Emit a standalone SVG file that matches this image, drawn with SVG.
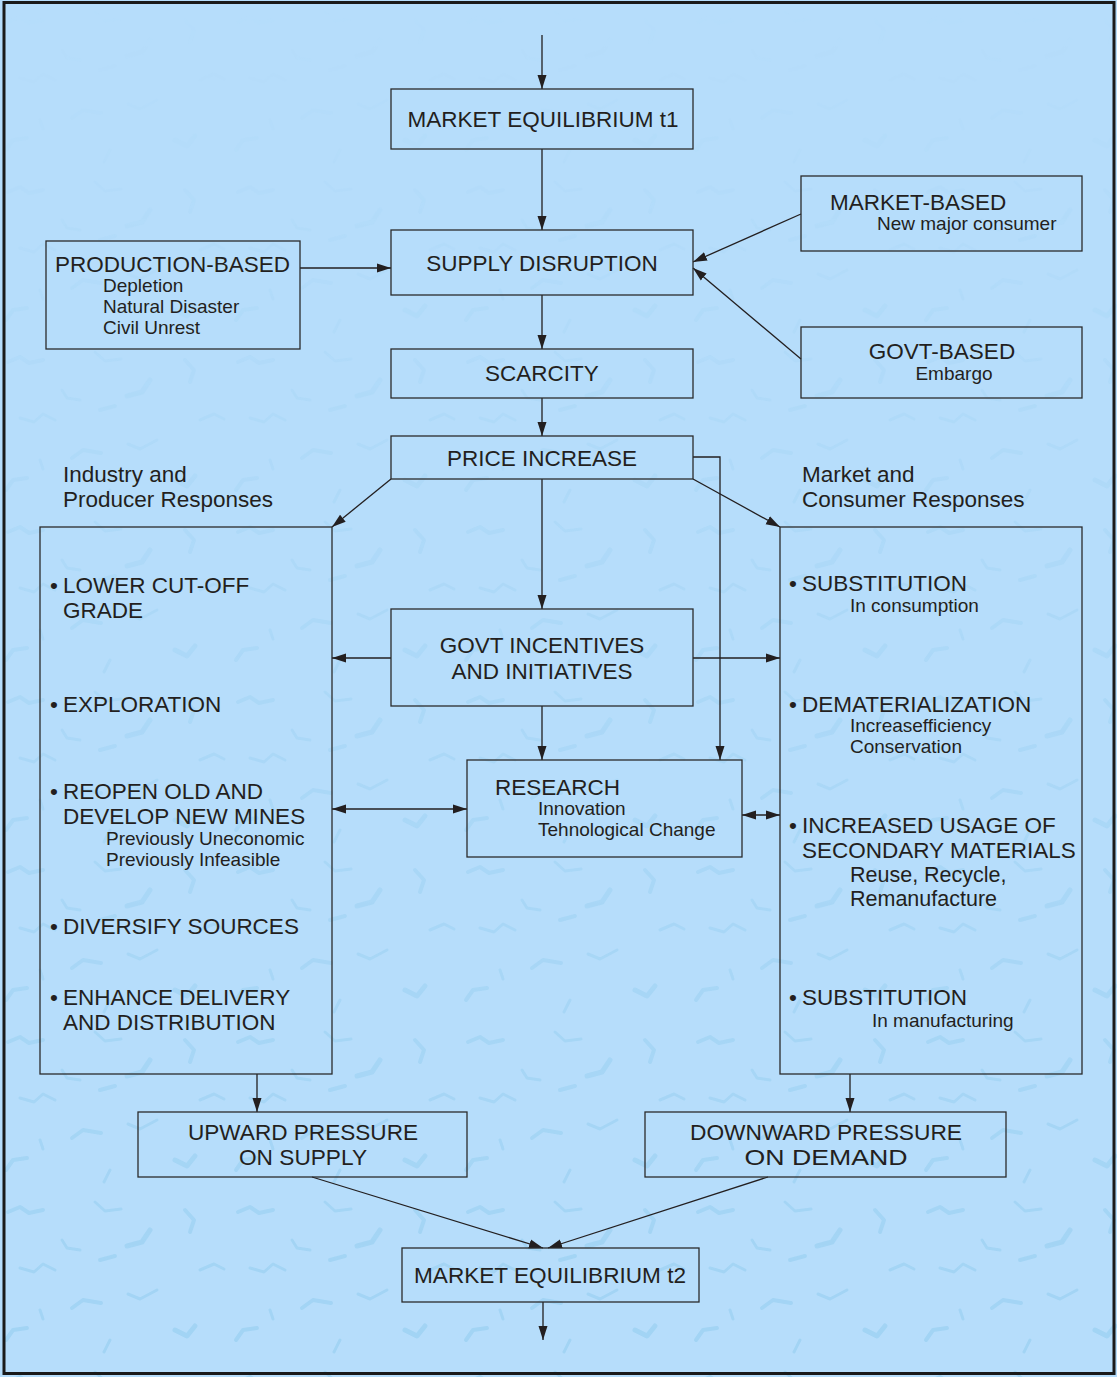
<svg xmlns="http://www.w3.org/2000/svg" width="1117" height="1377" viewBox="0 0 1117 1377">
<style>
.box{fill:none;stroke:#2b2b2b;stroke-width:1.3}
.ln{fill:none;stroke:#231f20;stroke-width:1.3}
.t{font-family:"Liberation Sans",Arial,sans-serif;font-size:22.5px;fill:#231f20}
.s{font-family:"Liberation Sans",Arial,sans-serif;font-size:19px;fill:#231f20}
.m{font-family:"Liberation Sans",Arial,sans-serif;font-size:21.5px;fill:#231f20}
.c{text-anchor:middle}
</style>
<defs>
<marker id="ah" markerUnits="userSpaceOnUse" markerWidth="15" markerHeight="10" refX="14" refY="5" orient="auto-start-reverse">
<path d="M0,0.5 L14,5 L0,9.5 z" fill="#231f20"/>
</marker>
<pattern id="tex" width="230" height="170" patternUnits="userSpaceOnUse">
<g fill="none" stroke="#93cdef" stroke-linecap="round" stroke-linejoin="round">
<path stroke-width="4" d="M8,22 l12,-5 l9,6 l14,-3"/>
<path stroke-width="3" d="M95,12 l10,9 l16,-2"/>
<path stroke-width="5" d="M150,40 l-8,12 l-15,4"/>
<path stroke-width="3" d="M20,78 l14,4 l9,-8 l12,6"/>
<path stroke-width="4" d="M72,118 l11,-8 l18,3"/>
<path stroke-width="3" d="M128,104 l12,5 l17,-9"/>
<path stroke-width="4" d="M6,150 l7,-10 l14,-2"/>
<path stroke-width="3" d="M62,50 l5,8 l13,2"/>
<path stroke-width="4" d="M185,20 l9,10 l-4,12"/>
<path stroke-width="3" d="M200,80 l14,-6 l10,5"/>
<path stroke-width="5" d="M175,140 l12,6 l8,-10"/>
<path stroke-width="3" d="M110,150 l-6,12"/>
<path stroke-width="3" d="M40,120 l3,9"/>
<path stroke-width="4" d="M100,70 l15,-4"/>
</g>
</pattern>
<linearGradient id="fade" x1="0" y1="0" x2="0" y2="1">
<stop offset="0" stop-color="#fff" stop-opacity="0"/>
<stop offset="0.3" stop-color="#fff" stop-opacity="0.3"/>
<stop offset="1" stop-color="#fff" stop-opacity="0.95"/>
</linearGradient>
<mask id="fm"><rect x="0" y="0" width="1117" height="1377" fill="url(#fade)"/></mask>
</defs>
<rect x="0" y="0" width="1117" height="1377" fill="#b6ddfb"/>
<rect x="0" y="0" width="1117" height="1377" fill="url(#tex)" mask="url(#fm)" opacity="0.6"/>
<rect x="4" y="2.5" width="1110" height="1371" fill="none" stroke="#1a1a1a" stroke-width="3"/>

<g id="connectors">
<line class="ln" x1="542" y1="35" x2="542" y2="89" marker-end="url(#ah)"/>
<line class="ln" x1="542" y1="149" x2="542" y2="230" marker-end="url(#ah)"/>
<line class="ln" x1="300" y1="268" x2="391" y2="268" marker-end="url(#ah)"/>
<line class="ln" x1="801" y1="214" x2="693" y2="262" marker-end="url(#ah)"/>
<line class="ln" x1="801" y1="359" x2="693" y2="268" marker-end="url(#ah)"/>
<line class="ln" x1="542" y1="295" x2="542" y2="349" marker-end="url(#ah)"/>
<line class="ln" x1="542" y1="398" x2="542" y2="436" marker-end="url(#ah)"/>
<polyline class="ln" points="693,457 720,457 720,760" marker-end="url(#ah)"/>
<line class="ln" x1="391" y1="479" x2="332" y2="527" marker-end="url(#ah)"/>
<line class="ln" x1="693" y1="479" x2="780" y2="527" marker-end="url(#ah)"/>
<line class="ln" x1="542" y1="479" x2="542" y2="609" marker-end="url(#ah)"/>
<line class="ln" x1="391" y1="658" x2="332" y2="658" marker-end="url(#ah)"/>
<line class="ln" x1="693" y1="658" x2="780" y2="658" marker-end="url(#ah)"/>
<line class="ln" x1="542" y1="706" x2="542" y2="760" marker-end="url(#ah)"/>
<line class="ln" x1="332" y1="809" x2="467" y2="809" marker-start="url(#ah)" marker-end="url(#ah)"/>
<line class="ln" x1="742" y1="815" x2="780" y2="815" marker-start="url(#ah)" marker-end="url(#ah)"/>
<line class="ln" x1="257" y1="1074" x2="257" y2="1112" marker-end="url(#ah)"/>
<line class="ln" x1="850" y1="1074" x2="850" y2="1112" marker-end="url(#ah)"/>
<line class="ln" x1="312" y1="1177" x2="543" y2="1248" marker-end="url(#ah)"/>
<line class="ln" x1="768" y1="1177" x2="548" y2="1248" marker-end="url(#ah)"/>
<line class="ln" x1="543" y1="1302" x2="543" y2="1340" marker-end="url(#ah)"/>
</g>

<g id="me1">
<rect class="box" x="391" y="89" width="302" height="60"/>
<text class="t c" x="543" y="127">MARKET EQUILIBRIUM t1</text>
</g>
<g id="supply">
<rect class="box" x="391" y="230" width="302" height="65"/>
<text class="t c" x="542" y="271">SUPPLY DISRUPTION</text>
</g>
<g id="production">
<rect class="box" x="46" y="241" width="254" height="108"/>
<text class="t" x="55" y="272">PRODUCTION-BASED</text>
<text class="s" x="103" y="292">Depletion</text>
<text class="s" x="103" y="313">Natural Disaster</text>
<text class="s" x="103" y="334">Civil Unrest</text>
</g>
<g id="market">
<rect class="box" x="801" y="176" width="281" height="75"/>
<text class="t" x="830" y="210">MARKET-BASED</text>
<text class="s" x="877" y="230">New major consumer</text>
</g>
<g id="govt">
<rect class="box" x="801" y="327" width="281" height="71"/>
<text class="t c" x="942" y="359">GOVT-BASED</text>
<text class="s c" x="954" y="380">Embargo</text>
</g>
<g id="scarcity">
<rect class="box" x="391" y="349" width="302" height="49"/>
<text class="t c" x="542" y="381">SCARCITY</text>
</g>
<g id="price">
<rect class="box" x="391" y="436" width="302" height="43"/>
<text class="t c" x="542" y="466">PRICE INCREASE</text>
</g>
<g id="govtinc">
<rect class="box" x="391" y="609" width="302" height="97"/>
<text class="t c" x="542" y="653">GOVT INCENTIVES</text>
<text class="t c" x="542" y="679">AND INITIATIVES</text>
</g>
<g id="research">
<rect class="box" x="467" y="760" width="275" height="97"/>
<text class="t" x="495" y="795">RESEARCH</text>
<text class="s" x="538" y="815">Innovation</text>
<text class="s" x="538" y="836">Tehnological Change</text>
</g>
<g id="industry">
<text class="t" x="63" y="482">Industry and</text>
<text class="t" x="63" y="507">Producer Responses</text>
<rect class="box" x="40" y="527" width="292" height="547"/>
<text class="t" x="50" y="593">•</text>
<text class="t" x="63" y="593">LOWER CUT-OFF</text>
<text class="t" x="63" y="618">GRADE</text>
<text class="t" x="50" y="712">•</text>
<text class="t" x="63" y="712">EXPLORATION</text>
<text class="t" x="50" y="799">•</text>
<text class="t" x="63" y="799">REOPEN OLD AND</text>
<text class="t" x="63" y="824">DEVELOP NEW MINES</text>
<text class="s" x="106" y="845">Previously Uneconomic</text>
<text class="s" x="106" y="866">Previously Infeasible</text>
<text class="t" x="50" y="934">•</text>
<text class="t" x="63" y="934">DIVERSIFY SOURCES</text>
<text class="t" x="50" y="1005">•</text>
<text class="t" x="63" y="1005">ENHANCE DELIVERY</text>
<text class="t" x="63" y="1030">AND DISTRIBUTION</text>
</g>
<g id="consumer">
<text class="t" x="802" y="482">Market and</text>
<text class="t" x="802" y="507">Consumer Responses</text>
<rect class="box" x="780" y="527" width="302" height="547"/>
<text class="t" x="789" y="591">•</text>
<text class="t" x="802" y="591">SUBSTITUTION</text>
<text class="s" x="850" y="612">In consumption</text>
<text class="t" x="789" y="712">•</text>
<text class="t" x="802" y="712">DEMATERIALIZATION</text>
<text class="s" x="850" y="732">Increasefficiency</text>
<text class="s" x="850" y="753">Conservation</text>
<text class="t" x="789" y="833">•</text>
<text class="t" x="802" y="833">INCREASED USAGE OF</text>
<text class="t" x="802" y="858">SECONDARY MATERIALS</text>
<text class="m" x="850" y="882">Reuse, Recycle,</text>
<text class="m" x="850" y="906">Remanufacture</text>
<text class="t" x="789" y="1005">•</text>
<text class="t" x="802" y="1005">SUBSTITUTION</text>
<text class="s" x="872" y="1027">In manufacturing</text>
</g>
<g id="upward">
<rect class="box" x="138" y="1112" width="329" height="65"/>
<text class="t c" x="303" y="1140" textLength="230" lengthAdjust="spacingAndGlyphs">UPWARD PRESSURE</text>
<text class="t c" x="303" y="1165" textLength="128" lengthAdjust="spacingAndGlyphs">ON SUPPLY</text>
</g>
<g id="downward">
<rect class="box" x="645" y="1112" width="361" height="65"/>
<text class="t c" x="826" y="1140" textLength="272" lengthAdjust="spacingAndGlyphs">DOWNWARD PRESSURE</text>
<text class="t c" x="826" y="1165" textLength="163" lengthAdjust="spacingAndGlyphs">ON DEMAND</text>
</g>
<g id="me2">
<rect class="box" x="402" y="1248" width="297" height="54"/>
<text class="t c" x="550" y="1283" textLength="272" lengthAdjust="spacingAndGlyphs">MARKET EQUILIBRIUM t2</text>
</g>
</svg>
